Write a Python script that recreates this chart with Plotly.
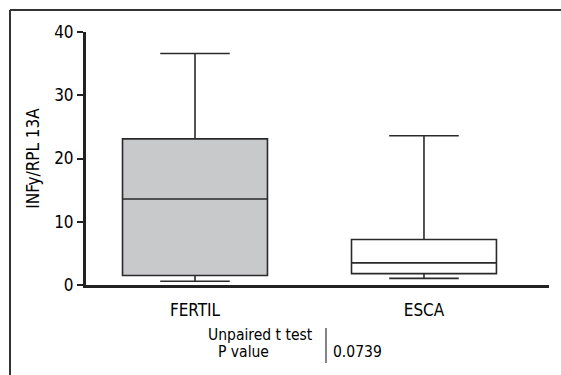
import plotly.graph_objects as go

categories = ["FERTIL", "ESCA"]
lower_fence = [0.6, 1.05]
q1_vals = [1.5, 1.8]
median_vals = [13.6, 3.5]
q3_vals = [23.1, 7.2]
upper_fence = [36.6, 23.6]
fill_colors = ["#c8c9cb", "#ffffff"]
y_ticks = [0, 10, 20, 30, 40]

FONT = "DejaVu Sans Condensed, Liberation Sans Narrow, sans-serif"

fig = go.Figure()
for i, cat in enumerate(categories):
    fig.add_trace(go.Box(
        x=[i], q1=[q1_vals[i]], median=[median_vals[i]], q3=[q3_vals[i]],
        lowerfence=[lower_fence[i]], upperfence=[upper_fence[i]],
        fillcolor=fill_colors[i], line=dict(color="#2a2a2a", width=1.6),
        width=0.633, whiskerwidth=0.48, boxpoints=False, showlegend=False,
        hoverinfo="skip",
    ))

L, R, T, B = 86, 12, 32, 90
W, H = 561, 375
pw, ph = W - L - R, H - T - B

def px(x):
    return (x - L) / pw

def py(y):
    return (H - B - y) / ph

fig.update_layout(
    width=W, height=H,
    margin=dict(l=L, r=R, t=T, b=B),
    paper_bgcolor="white", plot_bgcolor="white",
    font=dict(family=FONT, size=17, color="#000000"),
    xaxis=dict(
        range=[-0.476, 1.546], tickvals=[0, 1], ticktext=categories,
        showline=True, linewidth=3, linecolor="#222", showgrid=False,
        zeroline=False, ticks="", ticklabelstandoff=8,
        tickfont=dict(size=17),
    ),
    yaxis=dict(
        range=[0, 40], tickvals=y_ticks, showline=True, linewidth=3,
        linecolor="#222", showgrid=False, zeroline=False,
        ticks="outside", ticklen=6, tickwidth=2, tickcolor="#222",
        tickfont=dict(size=17),
        title=dict(text="INFy/RPL 13A", font=dict(size=17), standoff=11),
    ),
    shapes=[
        dict(type="line", xref="paper", yref="paper", x0=px(10), x1=px(565),
             y0=py(10), y1=py(10), line=dict(color="#333", width=2)),
        dict(type="line", xref="paper", yref="paper", x0=px(10), x1=px(10),
             y0=py(10), y1=py(380), line=dict(color="#333", width=2)),
        dict(type="line", xref="paper", yref="paper", x0=px(326), x1=px(326),
             y0=py(328), y1=py(363), line=dict(color="#333", width=1.2)),
    ],
    annotations=[
        dict(text="Unpaired t test", xref="paper", yref="paper", x=px(260), y=py(335),
             showarrow=False, font=dict(size=15.5), xanchor="center", yanchor="middle"),
        dict(text="P value", xref="paper", yref="paper", x=px(243.5), y=py(352),
             showarrow=False, font=dict(size=15.5), xanchor="center", yanchor="middle"),
        dict(text="0.0739", xref="paper", yref="paper", x=px(357.5), y=py(352),
             showarrow=False, font=dict(size=15.5), xanchor="center", yanchor="middle"),
    ],
)

fig.write_html("out.html")
